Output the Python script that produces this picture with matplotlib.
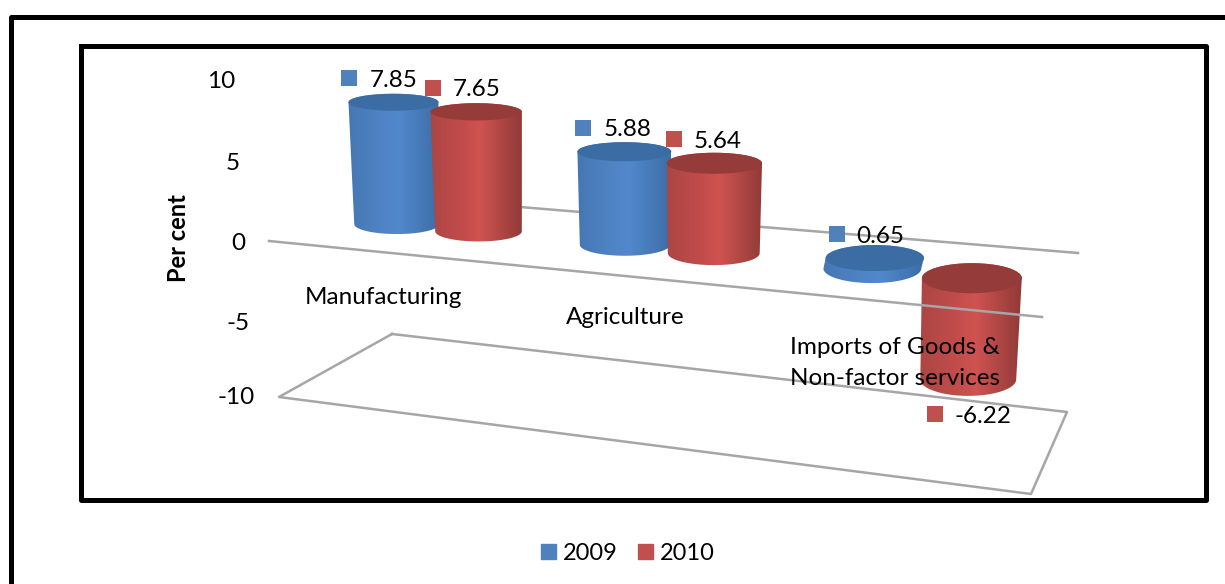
import numpy as np
import matplotlib
matplotlib.use("Agg")
import matplotlib.pyplot as plt
from matplotlib.colors import LinearSegmentedColormap
from matplotlib.patches import Ellipse, Patch, Polygon

# chart values
categories = ["Manufacturing", "Agriculture", "Imports of Goods &\nNon-factor services"]
years = ["2009", "2010"]
values_2009 = [7.85, 5.88, 0.65]
values_2010 = [7.65, 5.64, -6.22]
tick_values = [10, 5, 0, -5, -10]

plt.rcParams["font.family"] = ["Lato", "DejaVu Sans"]
FS = 17.5

blue_stops = ["#4577b2", "#4e83c4", "#5289cd", "#3c6da6"]
red_stops = ["#ab4644", "#c24c4a", "#cf5351", "#903a38"]
blue_top = "#3b6ca3"
red_top = "#953b39"
blue_flat = "#4f81bd"
red_flat = "#c0504d"
GRID = "#a6a6a6"


# the chart is a 3D view, this maps bar position / value to picture pixels
def bar_x(u):
    return 434.5 + 224.75 * u + 9.75 * u ** 2


def zero_y(x):
    return 224 + 0.0867 * (x - 393) + 1.2e-5 * (x - 393) ** 2


def unit_height(x):
    return 15 + 0.0013 * x


def half_arc(cx, cy, rx, ry, start, end):
    t = np.linspace(start, end, 60)
    return np.column_stack([cx + rx * np.cos(t), cy + ry * np.sin(t)])


def draw_cylinder(ax, x, value, stops, top_color):
    rx = 41.6 + 0.0086 * x
    ry = 8.5 + 6.5 * ((x - 393) / 578) ** 2
    y0 = zero_y(x)
    y1 = y0 - value * unit_height(x)
    y_top, y_bot = min(y0, y1), max(y0, y1)
    rx_bot = rx - 0.02 * (y_bot - y_top)
    x_bot = x + (670 - x) * 0.012

    # side of the cylinder, filled with a horizontal gradient
    verts = np.vstack([
        half_arc(x, y_top, rx, ry, np.pi, 2 * np.pi),
        half_arc(x_bot, y_bot, rx_bot, ry + 1.5, 0, np.pi),
    ])
    side = Polygon(verts, closed=True, facecolor="none", edgecolor="none", zorder=3)
    ax.add_patch(side)
    cmap = LinearSegmentedColormap.from_list("cyl", list(zip([0, 0.35, 0.55, 1], stops)))
    grad = np.linspace(0, 1, 256).reshape(1, -1)
    im = ax.imshow(grad, cmap=cmap, aspect="auto", zorder=3, interpolation="bilinear",
                   extent=[verts[:, 0].min(), verts[:, 0].max(), y_bot + ry + 2, y_top - ry - 2])
    im.set_clip_path(side)

    ax.add_patch(Ellipse((x, y_top), 2 * rx, 2 * ry, facecolor=top_color, edgecolor="none", zorder=3))

    # data label, marker and number
    end_y = y_bot if value < 0 else y_top
    return x - 44 + (x - 393) * 0.012, end_y + (35 if value < 0 else -24)


fig = plt.figure(figsize=(12.25, 5.84), dpi=100)
ax = fig.add_axes([0, 0, 1, 1])

# frames
ax.plot([10.5, 10.5, 1225], [584, 16.5, 16.5], color="black", lw=3.6, solid_joinstyle="round", zorder=1)
ax.plot([80.5, 1205.5, 1205.5, 80.5, 80.5], [45.5, 45.5, 499.5, 499.5, 45.5], color="black", lw=3.6,
        solid_joinstyle="round", zorder=1)

# floor and back wall lines
ax.plot([392, 1067, 1031, 279, 392], [334, 412, 494, 397, 334], color=GRID, lw=1.8, zorder=2)
ax.plot([520, 1078], [207, 253], color=GRID, lw=1.8, zorder=2)

series = [(values_2009, blue_stops, blue_top, blue_flat), (values_2010, red_stops, red_top, red_flat)]
for i in range(len(categories)):
    for s, (vals, stops, top, flat) in enumerate(series):
        x = bar_x(i + (-0.184 if s == 0 else 0.184))
        mx, my = draw_cylinder(ax, x, vals[i], stops, top)
        ax.scatter([mx], [my], marker="s", s=117, color=flat, linewidths=0, zorder=6)
        ax.text(mx + 20, my + 2, f"{vals[i]:.2f}", fontsize=FS, va="center", ha="left", zorder=7)

# zero line sits in front of the bars
ax.plot([269, 1042], [241, 317], color=GRID, lw=1.8, zorder=4)

# value axis labels
tick_right = [235, 240, 245, 250, 255]
tick_y = [82, 164, 244, 323, 398]
for v, tx, ty in zip(tick_values, tick_right, tick_y):
    ax.text(tx, ty, str(v), fontsize=FS, ha="right", va="center", zorder=7)
ax.text(178, 238, "Per cent", fontsize=17, fontweight="bold", rotation=90, ha="center", va="center", zorder=7)

# category labels
ax.text(383, 297, categories[0], fontsize=FS, ha="center", va="center", zorder=7)
ax.text(625, 318, categories[1], fontsize=FS, ha="center", va="center", zorder=7)
ax.text(895, 363, categories[2], fontsize=FS, ha="center", va="center", linespacing=1.58, zorder=7)

handles = [Patch(color=blue_flat, label=years[0]), Patch(color=red_flat, label=years[1])]
ax.legend(handles=handles, loc="center", bbox_to_anchor=(628, 553), bbox_transform=ax.transData, ncol=2,
          frameon=False, fontsize=17, handlelength=0.62, handleheight=0.62, handletextpad=0.3,
          columnspacing=0.85, borderpad=0, labelspacing=0)

ax.set_xlim(0, 1225)
ax.set_ylim(584, 0)
ax.axis("off")

fig.savefig("out.png", dpi=100)
